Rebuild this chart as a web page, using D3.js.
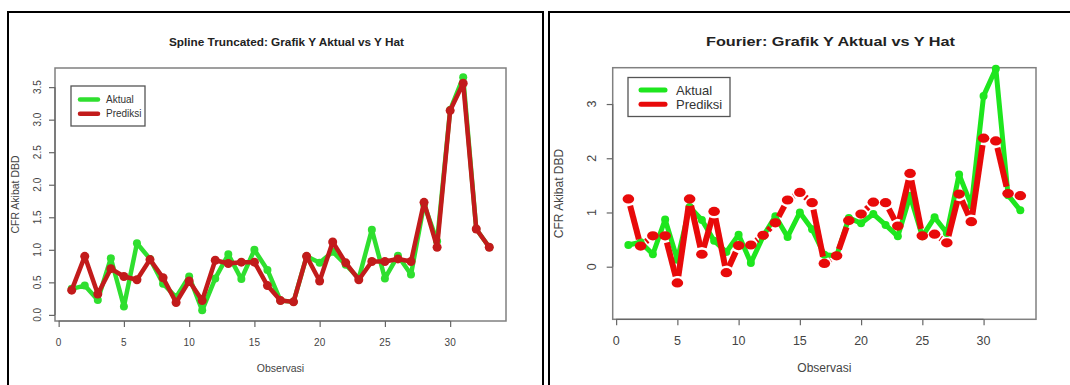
<!DOCTYPE html>
<html>
<head>
<meta charset="utf-8">
<script src="https://cdn.jsdelivr.net/npm/d3@7"></script>
<style>
  body { margin: 0; background: #fff; }
  svg { display: block; font-family: "Liberation Sans", Arial, sans-serif; }
</style>
</head>
<body>
<div id="chart"></div>
<script>
// Observations 1..33
const observasi = [1, 2, 3, 4, 5, 6, 7, 8, 9, 10, 11, 12, 13, 14, 15, 16, 17,
    18, 19, 20, 21, 22, 23, 24, 25, 26, 27, 28, 29, 30, 31, 32, 33];

// CFR akibat DBD, actual values (same in both panels)
const aktual = [0.40, 0.45, 0.23, 0.87, 0.13, 1.10, 0.86, 0.48, 0.27, 0.59, 0.07,
    0.56, 0.93, 0.55, 1.00, 0.69, 0.22, 0.20, 0.90, 0.80, 0.97, 0.77, 0.56, 1.31,
    0.56, 0.91, 0.62, 1.70, 1.13, 3.15, 3.65, 1.32, 1.04];

// Spline truncated prediction
const prediksiSpline = [0.38, 0.90, 0.32, 0.71, 0.59, 0.54, 0.85, 0.57, 0.19, 0.52,
    0.22, 0.84, 0.79, 0.81, 0.81, 0.45, 0.22, 0.20, 0.90, 0.52, 1.12, 0.80, 0.54,
    0.82, 0.82, 0.86, 0.82, 1.73, 1.04, 3.14, 3.56, 1.32, 1.04];

// Fourier prediction
const prediksiFourier = [1.25, 0.38, 0.57, 0.57, -0.30, 1.25, 0.23, 1.02, -0.11, 0.39,
    0.40, 0.58, 0.81, 1.23, 1.37, 1.18, 0.06, 0.20, 0.85, 0.97, 1.19, 1.18, 0.75,
    1.72, 0.57, 0.60, 0.44, 1.34, 0.83, 2.37, 2.32, 1.35, 1.31];

// Tick labels
const xTicks = [0, 5, 10, 15, 20, 25, 30];
const yTicksSpline = [0, 0.5, 1, 1.5, 2, 2.5, 3, 3.5];
const yTicksFourier = [0, 1, 2, 3];
const legendLabels = ['Aktual', 'Prediksi'];

const WIDTH = 1070, HEIGHT = 385;

const svg = d3.select('#chart').append('svg')
    .attr('width', WIDTH)
    .attr('height', HEIGHT);

/**
 * Draw one R-style panel (frame, title, axes, legend, two series)
 */
const drawPanel = (cfg) => {
    const g = svg.append('g');
    const { box } = cfg;

    const x = d3.scaleLinear().domain(cfg.xDomain).range([box.x0, box.x1]);
    const y = d3.scaleLinear().domain(cfg.yDomain).range([box.y1, box.y0]);

    // outer black frame
    g.append('rect')
        .attr('x', cfg.frame.x).attr('y', cfg.frame.y)
        .attr('width', cfg.frame.w).attr('height', 400)
        .attr('fill', 'none').attr('stroke', '#000').attr('stroke-width', 2);

    // title
    g.append('text')
        .attr('x', cfg.title.x).attr('y', cfg.title.y)
        .attr('text-anchor', 'middle')
        .attr('font-weight', 'bold')
        .attr('font-size', cfg.title.size)
        .attr('textLength', cfg.title.len)
        .attr('lengthAdjust', 'spacingAndGlyphs')
        .attr('fill', '#222')
        .text(cfg.title.text);

    // plot box
    g.append('rect')
        .attr('x', box.x0).attr('y', box.y0)
        .attr('width', box.x1 - box.x0).attr('height', box.y1 - box.y0)
        .attr('fill', 'none').attr('stroke', '#808080').attr('stroke-width', 1.5);

    // x axis
    const xAxis = g.append('g')
        .attr('transform', `translate(0, ${box.y1})`)
        .call(d3.axisBottom(x).tickValues(xTicks).tickSize(6).tickSizeOuter(0));
    xAxis.select('.domain').remove();
    xAxis.selectAll('line').attr('stroke', '#666').attr('stroke-width', 1.2);
    xAxis.selectAll('text').remove();
    xAxis.append('line')
        .attr('x1', x(xTicks[0])).attr('x2', x(xTicks[xTicks.length - 1]))
        .attr('stroke', '#666').attr('stroke-width', 1.2);
    g.selectAll('.xlab')
        .data(xTicks)
        .join('text')
        .attr('x', d => x(d))
        .attr('y', cfg.xLabelY)
        .attr('text-anchor', 'middle')
        .attr('font-size', cfg.tickSize)
        .attr('fill', '#444')
        .text(d => d);

    // y axis
    const yTicks = cfg.yTicks;
    const yAxis = g.append('g')
        .attr('transform', `translate(${box.x0}, 0)`)
        .call(d3.axisLeft(y).tickValues(yTicks).tickSize(6).tickSizeOuter(0));
    yAxis.select('.domain').remove();
    yAxis.selectAll('line').attr('stroke', '#666').attr('stroke-width', 1.2);
    yAxis.selectAll('text').remove();
    yAxis.append('line')
        .attr('y1', y(yTicks[0])).attr('y2', y(yTicks[yTicks.length - 1]))
        .attr('stroke', '#666').attr('stroke-width', 1.2);
    g.selectAll('.ylab')
        .data(yTicks)
        .join('text')
        .attr('transform', d => `translate(${cfg.yLabelX}, ${y(d)}) rotate(-90)`)
        .attr('text-anchor', 'middle')
        .attr('font-size', cfg.tickSize)
        .attr('fill', '#444')
        .text(cfg.yFormat);

    // axis titles
    g.append('text')
        .attr('x', (box.x0 + box.x1) / 2).attr('y', cfg.xTitleY)
        .attr('text-anchor', 'middle')
        .attr('font-size', cfg.axisTitleSize)
        .attr('fill', '#444')
        .text('Observasi');
    g.append('text')
        .attr('transform', `translate(${cfg.yTitleX}, ${(box.y0 + box.y1) / 2}) rotate(-90)`)
        .attr('text-anchor', 'middle')
        .attr('font-size', cfg.axisTitleSize)
        .attr('fill', '#444')
        .text('CFR Akibat DBD');

    // series
    const pts = (vals) => vals.map((v, i) => [x(observasi[i]), y(v)]);
    const line = d3.line();
    const aktualPts = pts(aktual);
    const predPts = pts(cfg.pred);

    g.append('path')
        .attr('d', line(aktualPts))
        .attr('fill', 'none')
        .attr('stroke', cfg.green)
        .attr('stroke-width', cfg.greenWidth)
        .attr('stroke-linejoin', 'round');
    g.selectAll('.pt-aktual')
        .data(aktualPts)
        .join('circle')
        .attr('cx', d => d[0]).attr('cy', d => d[1])
        .attr('r', cfg.greenR)
        .attr('fill', cfg.green);

    if (cfg.gap) {
        // type = "b": segments stop short of the points
        const segs = [];
        for (let i = 0; i < predPts.length - 1; i++) {
            const [x0, y0] = predPts[i], [x1, y1] = predPts[i + 1];
            const len = Math.hypot(x1 - x0, y1 - y0);
            if (len <= 2 * cfg.gap) continue;
            const ux = (x1 - x0) / len, uy = (y1 - y0) / len;
            segs.push([x0 + ux * cfg.gap, y0 + uy * cfg.gap, x1 - ux * cfg.gap, y1 - uy * cfg.gap]);
        }
        g.selectAll('.seg')
            .data(segs)
            .join('line')
            .attr('x1', d => d[0]).attr('y1', d => d[1])
            .attr('x2', d => d[2]).attr('y2', d => d[3])
            .attr('stroke', cfg.red)
            .attr('stroke-width', cfg.redWidth);
    } else {
        g.append('path')
            .attr('d', line(predPts))
            .attr('fill', 'none')
            .attr('stroke', cfg.red)
            .attr('stroke-width', cfg.redWidth)
            .attr('stroke-linejoin', 'round');
    }
    g.selectAll('.pt-pred')
        .data(predPts)
        .join('ellipse')
        .attr('cx', d => d[0]).attr('cy', d => d[1])
        .attr('rx', cfg.redRx).attr('ry', cfg.redRy)
        .attr('fill', cfg.red);

    // legend
    const lg = cfg.legend;
    g.append('rect')
        .attr('x', lg.x).attr('y', lg.y)
        .attr('width', lg.w).attr('height', lg.h)
        .attr('fill', '#fff').attr('stroke', '#555').attr('stroke-width', 1.3);
    const colors = [cfg.green, cfg.red];
    legendLabels.forEach((label, i) => {
        const ly = lg.y + lg.row0 + i * lg.step;
        g.append('line')
            .attr('x1', lg.lineX0).attr('x2', lg.lineX1)
            .attr('y1', ly).attr('y2', ly)
            .attr('stroke', colors[i])
            .attr('stroke-width', lg.lineWidth)
            .attr('stroke-linecap', 'round');
        g.append('text')
            .attr('x', lg.textX).attr('y', ly)
            .attr('dy', '0.35em')
            .attr('font-size', lg.fontSize)
            .attr('fill', '#333')
            .text(label);
    });
};

// Left: Spline Truncated
drawPanel({
    frame: { x: 8, y: 12, w: 535 },
    title: { text: 'Spline Truncated: Grafik Y Aktual vs Y Hat', x: 286.5, y: 46, size: 11.5, len: 235 },
    box: { x0: 55, x1: 506, y0: 68, y1: 321 },
    xDomain: [-0.28, 34.28],
    yDomain: [-0.094, 3.794],
    yTicks: yTicksSpline,
    yFormat: d3.format('.1f'),
    tickSize: 10,
    xLabelY: 346,
    yLabelX: 41,
    xTitleY: 372,
    yTitleX: 19,
    axisTitleSize: 10.5,
    pred: prediksiSpline,
    green: '#2fdf2f',
    red: '#c21b1b',
    greenWidth: 4.5,
    redWidth: 4.5,
    greenR: 4,
    redRx: 4.5,
    redRy: 4.5,
    gap: 0,
    legend: { x: 71, y: 86, w: 74, h: 40, row0: 13.5, step: 14.3, lineX0: 80, lineX1: 98,
        lineWidth: 4.5, textX: 106, fontSize: 10 }
});

// Right: Fourier
drawPanel({
    frame: { x: 549, y: 12, w: 530 },
    title: { text: 'Fourier: Grafik Y Aktual vs Y Hat', x: 830.5, y: 46, size: 13, len: 249 },
    box: { x0: 612.7, x1: 1036, y0: 67.7, y1: 319.3 },
    xDomain: [-0.28, 34.28],
    yDomain: [-0.97, 3.67],
    yTicks: yTicksFourier,
    yFormat: d3.format('d'),
    tickSize: 12.5,
    xLabelY: 345,
    yLabelX: 596,
    xTitleY: 372,
    yTitleX: 563,
    axisTitleSize: 12,
    pred: prediksiFourier,
    green: '#1ee61e',
    red: '#e80a0a',
    greenWidth: 5,
    redWidth: 6,
    greenR: 4,
    redRx: 5.8,
    redRy: 4.6,
    gap: 7,
    legend: { x: 628, y: 77.5, w: 102, h: 39, row0: 12.5, step: 14.3, lineX0: 641, lineX1: 665,
        lineWidth: 5, textX: 676, fontSize: 13 }
});
</script>
</body>
</html>
